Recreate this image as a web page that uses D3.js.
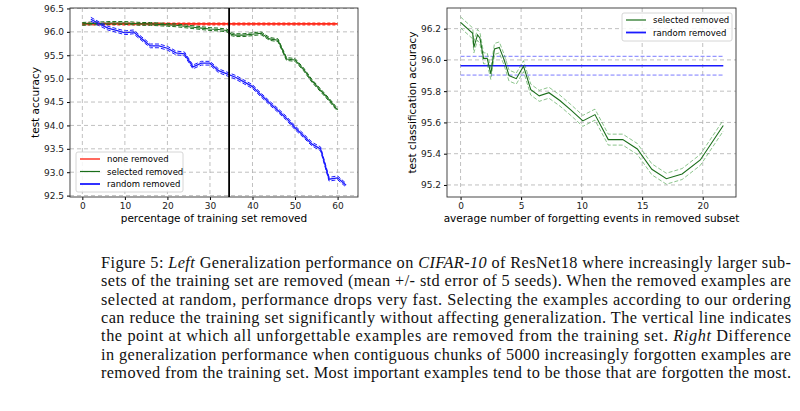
<!DOCTYPE html>
<html><head><meta charset="utf-8">
<script src="https://cdn.jsdelivr.net/npm/d3@7"></script>
<style>body{margin:0;background:#fff}text{font-family:"DejaVu Sans",sans-serif}</style>
</head><body><svg id="c" width="800" height="411"></svg>
<script>
// left panel data
var noneX = d3.range(0, 61, 2);
var noneY = noneX.map(function(){ return 96.17; });
var selX = [0,2,4,6,8,10,12,14,16,18,20,22,24,26,28,30,32,34,35,36,38,40,42,44,46,48,50,52,54,56,58,60];
var selY = [96.17,96.18,96.18,96.19,96.19,96.19,96.18,96.17,96.17,96.16,96.15,96.14,96.12,96.10,96.08,96.06,96.05,96.03,95.95,95.93,95.93,95.95,95.97,95.85,95.82,95.42,95.40,95.20,94.95,94.75,94.55,94.33];
var selErr = 0.03;
var rndX = [2,4,6,8,10,12,14,16,18,20,22,24,26,28,30,32,34,36,38,40,42,44,46,48,50,52,54,56,58,60,62];
var rndY = [96.27,96.17,96.08,96.03,95.98,96.00,95.85,95.70,95.70,95.65,95.55,95.53,95.25,95.33,95.33,95.17,95.10,95.03,94.93,94.83,94.65,94.48,94.32,94.15,93.95,93.78,93.60,93.50,92.85,92.88,92.72];
var rndErr = 0.04;
var leftXTicks = [0,10,20,30,40,50,60];
var leftYTicks = [92.5,93.0,93.5,94.0,94.5,95.0,95.5,96.0,96.5];
var cutoff = 34.5;
// right panel data
var fgX = [0,1,1.1,1.4,1.6,1.9,2.2,2.5,2.8,3.2,3.6,4.0,4.6,5.2,5.8,6.5,7.3,8.2,9.1,10.1,11.1,12.2,13.4,14.6,15.8,17,18.3,19.8,21.7];
var fgY = [96.24,96.17,96.08,96.16,96.14,96.01,96.01,95.91,96.07,96.08,96.0,95.90,95.88,95.96,95.81,95.77,95.79,95.74,95.68,95.61,95.65,95.49,95.49,95.43,95.30,95.24,95.27,95.36,95.58];
var fgErr = 0.035;
var rndMean = 95.963, rndStd = 0.06;
var rightXTicks = [0,5,10,15,20];
var rightYTicks = [95.2,95.4,95.6,95.8,96.0,96.2];

var svg = d3.select("#c");

function panel(o) {
  var x = d3.scaleLinear().domain(o.xd).range([o.l, o.r]);
  var y = d3.scaleLinear().domain(o.yd).range([o.b, o.t]);
  var g = svg.append("g");
  var grid = g.append("g").attr("stroke", "#b0b0b0").attr("stroke-dasharray", "4,3").attr("stroke-width", 0.8);
  o.xt.forEach(function(v){ grid.append("line").attr("x1", x(v)).attr("x2", x(v)).attr("y1", o.t).attr("y2", o.b); });
  o.yt.forEach(function(v){ grid.append("line").attr("y1", y(v)).attr("y2", y(v)).attr("x1", o.l).attr("x2", o.r); });
  var ax = g.append("g").attr("transform", "translate(0," + o.b + ")")
    .call(d3.axisBottom(x).tickValues(o.xt).tickSize(3).tickFormat(d3.format("d")));
  var ay = g.append("g").attr("transform", "translate(" + o.l + ",0)")
    .call(d3.axisLeft(y).tickValues(o.yt).tickSize(3).tickFormat(d3.format(".1f")));
  [ax, ay].forEach(function(a){ a.select(".domain").remove(); a.selectAll("text").attr("font-size", 9).attr("fill", "#222"); });
  g.append("rect").attr("x", o.l).attr("y", o.t).attr("width", o.r - o.l).attr("height", o.b - o.t)
    .attr("fill", "none").attr("stroke", "#333").attr("stroke-width", 0.9);
  g.append("text").attr("x", (o.l + o.r) / 2).attr("y", o.b + 25).attr("text-anchor", "middle").attr("font-size", 10.5).text(o.xl);
  g.append("text").attr("transform", "translate(" + (o.l - 31) + "," + ((o.t + o.b) / 2) + ") rotate(-90)")
    .attr("text-anchor", "middle").attr("font-size", 10.5).text(o.yl);
  return {x: x, y: y, g: g};
}

function series(p, xs, ys, off, color, w, dash, op) {
  var line = d3.line().x(function(d, i){ return p.x(xs[i]); }).y(function(d){ return p.y(d + off); });
  p.g.append("path").attr("d", line(ys)).attr("fill", "none").attr("stroke", color)
    .attr("stroke-width", w).attr("stroke-dasharray", dash).attr("opacity", op || 1);
}

var L = panel({xd: [-2.9, 64.8], yd: [92.47, 96.51], l: 70, r: 358, t: 8, b: 197,
  xt: leftXTicks, yt: leftYTicks, xl: "percentage of training set removed", yl: "test accuracy"});
series(L, noneX, noneY, 0.02, "#ff2a1a", 1.1, "3,2");
series(L, noneX, noneY, -0.02, "#ff2a1a", 1.1, "3,2");
series(L, noneX, noneY, 0, "#ff2a1a", 1.6, null);
series(L, selX, selY, selErr, "#1a6e1a", 1, "4,2");
series(L, selX, selY, -selErr, "#1a6e1a", 1, "4,2");
series(L, selX, selY, 0, "#1a6e1a", 1.1, null);
series(L, rndX, rndY, rndErr, "#1a1aff", 1, "4,2");
series(L, rndX, rndY, -rndErr, "#1a1aff", 1, "4,2");
series(L, rndX, rndY, 0, "#1a1aff", 1.3, null);
L.g.append("line").attr("x1", L.x(cutoff)).attr("x2", L.x(cutoff)).attr("y1", 8).attr("y2", 197)
  .attr("stroke", "#000").attr("stroke-width", 1.8);

var R = panel({xd: [-1.12, 22.75], yd: [95.123, 96.332], l: 447, r: 736, t: 8, b: 197,
  xt: rightXTicks, yt: rightYTicks, xl: "average number of forgetting events in removed subset", yl: "test classification accuracy"});
var bx = [0, 21.7];
series(R, bx, [rndMean, rndMean], rndStd, "#5a5aff", 1, "4,2", 0.8);
series(R, bx, [rndMean, rndMean], -rndStd, "#5a5aff", 1, "4,2", 0.8);
series(R, bx, [rndMean, rndMean], 0, "#1a1aff", 1.6, null);
series(R, fgX, fgY, fgErr, "#1a8a1a", 1, "4,2", 0.5);
series(R, fgX, fgY, -fgErr, "#1a8a1a", 1, "4,2", 0.5);
series(R, fgX, fgY, 0, "#1a6e1a", 1.1, null);

function legend(x0, y0, w, h, items) {
  var g = svg.append("g");
  g.append("rect").attr("x", x0).attr("y", y0).attr("width", w).attr("height", h).attr("rx", 2)
    .attr("fill", "#fff").attr("fill-opacity", 0.85).attr("stroke", "#ccc").attr("stroke-width", 0.8);
  items.forEach(function(it, i){
    var yy = y0 + 7 + i * 12.5;
    g.append("line").attr("x1", x0 + 4).attr("x2", x0 + 24).attr("y1", yy).attr("y2", yy).attr("stroke", it[1]).attr("stroke-width", it[2]);
    g.append("text").attr("x", x0 + 31).attr("y", yy + 3).attr("font-size", 8.5).text(it[0]);
  });
}
legend(76, 152, 107, 40, [["none removed", "#ff2a1a", 1.4], ["selected removed", "#1a6e1a", 1.2], ["random removed", "#1a1aff", 1.8]]);
legend(622, 13, 110, 28, [["selected removed", "#1a6e1a", 1.2], ["random removed", "#1a1aff", 1.8]]);

// caption
var caption = [
  [["Figure 5: ", 0], ["Left", 1], [" Generalization performance on ", 0], ["CIFAR-10", 1], [" of ResNet18 where increasingly larger sub-", 0]],
  [["sets of the training set are removed (mean +/- std error of 5 seeds).  When the removed examples are", 0]],
  [["selected at random, performance drops very fast. Selecting the examples according to our ordering", 0]],
  [["can reduce the training set significantly without affecting generalization.  The vertical line indicates", 0]],
  [["the point at which all unforgettable examples are removed from the training set.  ", 0], ["Right", 1], [" Difference", 0]],
  [["in generalization performance when contiguous chunks of 5000 increasingly forgotten examples are", 0]],
  [["removed from the training set. Most important examples tend to be those that are forgotten the most.", 0]]
];
caption.forEach(function(parts, i){
  var t = svg.append("text").attr("x", 101).attr("y", 268 + i * 18.3)
    .style("font-family", "'Liberation Serif','DejaVu Serif',serif").attr("font-size", 16.3).attr("fill", "#111")
    .attr("textLength", 690).attr("lengthAdjust", "spacing");
  parts.forEach(function(p){ t.append("tspan").attr("font-style", p[1] ? "italic" : "normal").text(p[0]); });
});
</script></body></html>
